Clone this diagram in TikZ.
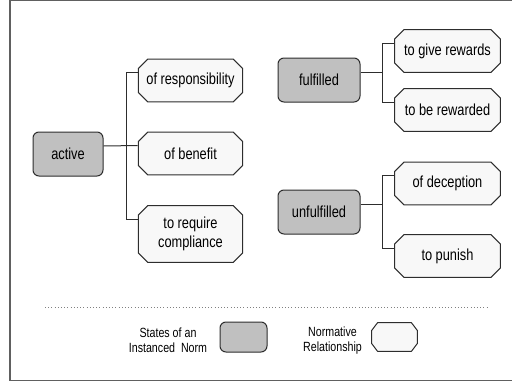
\documentclass[tikz,border=0pt]{standalone}
\usepackage{fontspec}
\setmainfont{Liberation Sans}[FakeStretch=0.8]
\usepackage{tikz}
\usetikzlibrary{calc}

\definecolor{stategray}{RGB}{192,192,192}
\definecolor{relfill}{RGB}{248,248,248}
\definecolor{edgegray}{RGB}{45,45,45}

\tikzset{
  octx/.store in=\octx, octy/.store in=\octy, octx=7.5pt, octy=7.5pt,
  state/.style={draw=edgegray,fill=stategray,rounded corners=4.5pt,line width=0.75pt,
    minimum height=33pt,font=\fontsize{12}{14.4}\selectfont},
  relation/.style={rectangle,inner sep=1pt,minimum height=33pt,align=center,
    font=\fontsize{12}{14.25}\selectfont,
    path picture={
      \coordinate (nw) at (path picture bounding box.north west);
      \coordinate (se) at (path picture bounding box.south east);
      \draw[edgegray,fill=relfill,line width=0.75pt]
        ($(nw)+(\octx,-0.4pt)$) -- ($(nw -| se)+(-\octx,-0.4pt)$)
        -- ($(nw -| se)+(-0.4pt,-\octy)$) -- ($(se)+(-0.4pt,\octy)$)
        -- ($(se)+(-\octx,0.4pt)$) -- ($(se -| nw)+(\octx,0.4pt)$)
        -- ($(se -| nw)+(0.4pt,\octy)$) -- ($(nw)+(0.4pt,-\octy)$) -- cycle;
    }},
  link/.style={draw=edgegray,line width=0.75pt},
  legendtext/.style={align=center,font=\fontsize{10}{11.25}\selectfont}
}

\begin{document}
\begin{tikzpicture}[x=0.75pt,y=-0.75pt]
  \useasboundingbox (0,0) rectangle (512,383);
  \clip (0,0) rectangle (512,383);
  %\draw[step=10,gray,very thin] (0,0) grid (512,383);
  \draw[line width=1.2pt,gray!75!black] (10,0.6) rectangle (540,380.4);

  % active
  \node[state,minimum width=52.5pt] (act) at (68,154) {active};
  \node[relation,minimum width=79pt] (resp) at (190.5,80.5) {of responsibility};
  \node[relation,minimum width=79pt] (ben) at (190.5,153.5) {of benefit};
  \node[relation,minimum width=79pt,minimum height=43.5pt] (comp) at (190.5,234) {to require\\compliance};

  \draw[link] ([yshift=6pt]act.east) -- ([yshift=6pt]ben.west);
  \draw[link] ([yshift=6pt]resp.west) -- ++(-11,0) |- ([yshift=11.25pt]comp.west);

  % fulfilled
  \node[state,minimum width=61.5pt] (ful) at (319,80) {fulfilled};
  \node[relation,minimum width=80pt] (give) at (447.5,51) {to give rewards};
  \node[relation,minimum width=80pt] (rew) at (447.5,110) {to be rewarded};

  \draw[link] ([yshift=6pt]give.west) -- ++(-11,0) coordinate (ftrunk)
    |- ([yshift=6pt]rew.west);
  \draw[link] ([yshift=6pt]ful.east) -| (ftrunk);

  % unfulfilled
  \node[state,minimum width=61.5pt] (unf) at (319,212) {unfulfilled};
  \node[relation,minimum width=80pt] (dec) at (447.5,183.5) {of deception};
  \node[relation,minimum width=80pt] (pun) at (447.5,256) {to punish};

  \draw[link] ([yshift=6pt]dec.west) -- ++(-11,0) coordinate (utrunk)
    |- ([yshift=6pt]pun.west);
  \draw[link] ([yshift=6pt]unf.east) -| (utrunk);

  % legend
  \draw[dotted,gray] (45,307) -- (488,307);
  \node[legendtext] (legstate) at (168,340) {States of an\\Instanced~ Norm};
  \node[state,minimum width=35.25pt,minimum height=22.5pt] (legbox) at (243.5,337) {};
  \node[legendtext] (legrel) at (332.5,341) {Normative\\Relationship};
  \node[relation,octx=5pt,octy=6.5pt,minimum width=35.25pt,minimum height=22.5pt] (legoct) at (394.5,337) {};
\end{tikzpicture}
\end{document}
